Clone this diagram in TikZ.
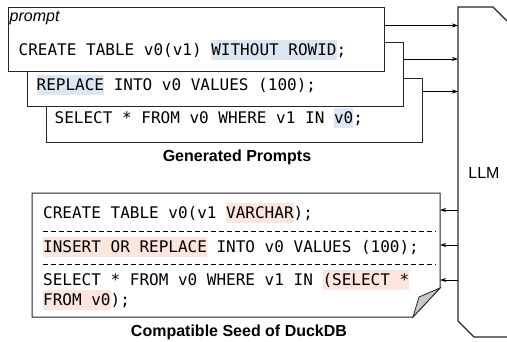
\documentclass[tikz,border=0pt]{standalone}
\usepackage{fontspec}
\setmainfont{Liberation Sans}
\setmonofont{DejaVu Sans Mono}
\usetikzlibrary{arrows.meta}

\definecolor{hlblue}{RGB}{221,230,243}
\definecolor{hlred}{RGB}{251,229,220}
\definecolor{foldgray}{RGB}{200,200,200}
\newcommand{\hlb}[1]{{\setlength{\fboxsep}{0pt}\colorbox{hlblue}{\rule[-4.5pt]{0pt}{20pt}#1}}}
\newcommand{\hlr}[1]{{\setlength{\fboxsep}{0pt}\colorbox{hlred}{\rule[-4.5pt]{0pt}{20pt}#1}}}

\begin{document}
\begin{tikzpicture}[x=1pt, y=-1pt, font=\fontsize{16}{20}\selectfont]
      \tikzstyle{prompt box}=[draw=black!85, line width=1pt, fill=white,
        minimum width=376pt, minimum height=64pt, inner sep=0pt]
      \tikzstyle{code}=[anchor=west, inner sep=0pt, text height=15.5pt, text depth=4.5pt,
        font=\fontsize{16}{20}\selectfont\ttfamily]
      \tikzstyle{caption}=[inner sep=0pt, font=\fontsize{16}{20}\selectfont\bfseries]
      \tikzstyle{thin arrow}=[line width=0.8pt, -{Stealth[length=6pt, width=4pt]}]

      \useasboundingbox (0,0) rectangle (507,341);

      % prompt boxes, back one first
      \foreach \i in {3, 2, 1}
      {
        \path ({196+19*(\i-1)}, {39+35.5*(\i-1)}) node[prompt box] (p\i) {};
      }

      \node[anchor=west, inner sep=0pt, font=\fontsize{16}{20}\selectfont\itshape]
        (plabel) at ([xshift=2pt, yshift=-11pt]p1.north west) {prompt};
      \node[code] (t1) at ([xshift=11pt, yshift=-11pt]p1.west)
        {CREATE TABLE v0(v1) \hlb{WITHOUT ROWID};};
      \node[code] (t2) at ([xshift=10pt, yshift=-10.5pt]p2.west)
        {\hlb{REPLACE} INTO v0 VALUES (100);};
      \node[code] (t3) at ([xshift=9pt, yshift=-8pt]p3.west)
        {SELECT * FROM v0 WHERE v1 IN \hlb{v0};};

      \node[caption] (gen) at (237,157) {Generated Prompts};

      % LLM block
      \coordinate (llm) at (458,7);
      \draw[line width=1.2pt, black!85]
        (507,21) -- (493,7) -- (llm) -- (458,321) -- (474,337) -- (507,337);
      \node (llmlabel) at (484,173) {LLM};

      \foreach \i/\d in {1/19, 2/17, 3/14}
      {
        \coordinate (o\i) at ([yshift=-\d pt]p\i.north east);
        \draw[thin arrow] (o\i) -- (o\i -| llm);
      }

      % seed
      \coordinate (sw) at (32,317);
      \coordinate (ne) at (440,193);
      \coordinate (fold) at (440,288);
      \draw[line width=1pt, black!85, fill=white]
        (sw) |- (ne) -- (fold) -- (413,317) -- cycle;
      \draw[line width=0.8pt, black!85, fill=foldgray]
        (fold) -- (419,297) -- (413,317) -- cycle;

      \node[code] (s1) at (43,213) {CREATE TABLE v0(v1 \hlr{VARCHAR});};
      \node[code] (s2) at (43,247) {\hlr{INSERT OR REPLACE} INTO v0 VALUES (100);};
      \node[code] (s3) at (43,280) {SELECT * FROM v0 WHERE v1 IN \hlr{(SELECT *}};
      \node[code] (s4) at (43,300) {\hlr{FROM v0});};

      \draw[dash pattern=on 5pt off 3pt, line width=0.8pt] (43,231) -- (436,231);
      \draw[dash pattern=on 5pt off 3pt, line width=0.8pt] (43,264) -- (436,264);

      \foreach \y in {210, 245, 280}
      {
        \coordinate (r\y) at (458,\y);
        \draw[thin arrow] (r\y) -- (r\y -| ne);
      }

      \node[caption] (compat) at (239,332) {Compatible Seed of DuckDB};
    \end{tikzpicture}
\end{document}
